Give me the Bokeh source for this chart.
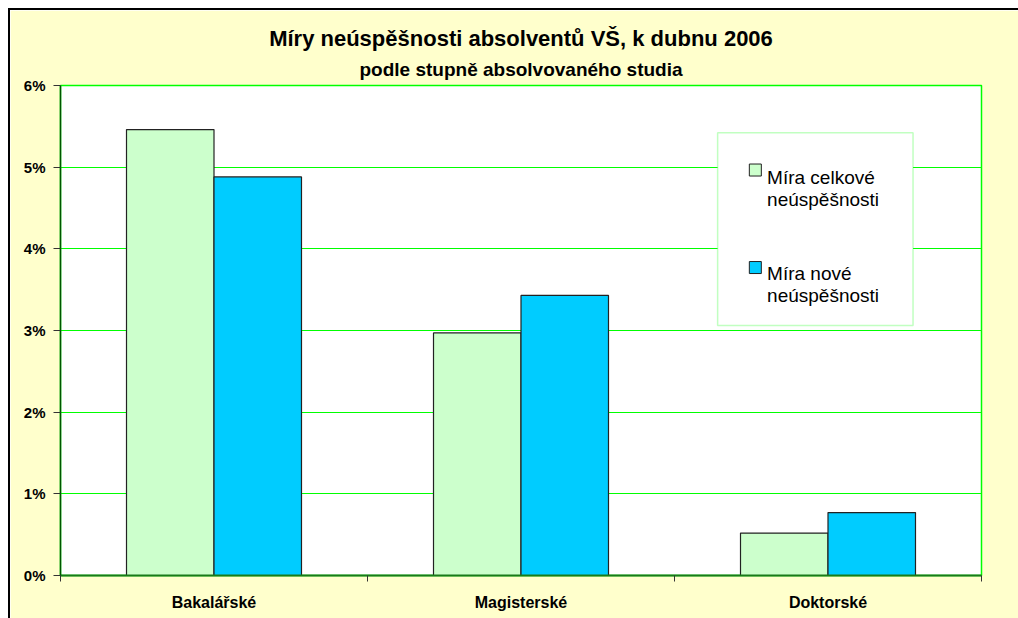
from bokeh.plotting import figure
from bokeh.layouts import column
from bokeh.models import (FixedTicker, NumeralTickFormatter, Range1d, Title,
                          BoxAnnotation, ColumnDataSource)
from bokeh.core.properties import value
from bokeh.embed import file_html
from bokeh.resources import INLINE

# ---- data ----
categories = ["Bakalářské", "Magisterské", "Doktorské"]
celkova = [0.0546, 0.0297, 0.0052]   # Míra celkové neúspěšnosti
nova = [0.0488, 0.0343, 0.0077]      # Míra nové neúspěšnosti
series_names = ["Míra celkové\nneúspěšnosti", "Míra nové\nneúspěšnosti"]
y_ticks = [0, 0.01, 0.02, 0.03, 0.04, 0.05, 0.06]

FONT = "Liberation Sans"
GREEN_FILL = "#CCFFCC"
BLUE_FILL = "#00CCFF"

centers = [i + 0.5 for i in range(len(categories))]
bar_w = 0.285

p = figure(width=1008, height=608, frame_width=919, frame_height=488,
           x_range=Range1d(0, 3), y_range=Range1d(0, 0.06),
           output_backend="svg", toolbar_location=None,
           min_border_left=50, min_border_right=39, min_border_top=75,
           min_border_bottom=45)
p.border_fill_color = "#FFFFCC"
p.background_fill_color = "white"
p.outline_line_color = "#00FF00"
p.outline_line_width = 1.5
p.styles = {"border-left": "2px solid #000", "border-top": "2px solid #000"}

# titles
sub = Title(text="podle stupně absolvovaného studia", align="center",
            text_font=FONT, text_font_size="19px", text_font_style="bold",
            text_color="black", standoff=12)
p.add_layout(sub, "above")
main = Title(text="Míry neúspěšnosti absolventů VŠ, k dubnu 2006", align="center",
             text_font=FONT, text_font_size="22px", text_font_style="bold",
             text_color="black", standoff=0)
p.add_layout(main, "above")

# bars
src = ColumnDataSource(dict(
    x1=[c - bar_w / 2 for c in centers], x2=[c + bar_w / 2 for c in centers],
    celkova=celkova, nova=nova))
p.vbar(x="x1", top="celkova", width=bar_w, source=src, fill_color=GREEN_FILL,
       line_color="#222222", line_width=1.2)
p.vbar(x="x2", top="nova", width=bar_w, source=src, fill_color=BLUE_FILL,
       line_color="#222222", line_width=1.2)

# grid
p.xgrid.visible = False
p.ygrid.grid_line_color = "#00FF00"
p.ygrid.grid_line_width = 1
p.yaxis.ticker = FixedTicker(ticks=y_ticks)

# axes
p.yaxis.formatter = NumeralTickFormatter(format="0%")
p.yaxis.axis_line_color = "#005500"
p.yaxis.axis_line_width = 1.5
p.yaxis.major_tick_line_color = "#333333"
p.yaxis.major_tick_in = 0
p.yaxis.major_tick_out = 7
p.yaxis.minor_tick_line_color = None
p.yaxis.major_label_standoff = 8
p.yaxis.major_label_text_font = FONT
p.yaxis.major_label_text_font_size = "15px"
p.yaxis.major_label_text_font_style = "bold"
p.yaxis.major_label_text_color = "black"

p.xaxis.ticker = FixedTicker(ticks=centers, minor_ticks=[0, 1, 2, 3])
p.xaxis.major_label_overrides = {c: n for c, n in zip(centers, categories)}
p.xaxis.axis_line_color = "#1A7A1A"
p.xaxis.axis_line_width = 2
p.xaxis.major_tick_line_color = None
p.xaxis.major_tick_in = 0
p.xaxis.major_tick_out = 6
p.xaxis.minor_tick_line_color = "#333333"
p.xaxis.minor_tick_in = 0
p.xaxis.minor_tick_out = 6
p.xaxis.major_label_standoff = 12
p.xaxis.major_label_text_font = FONT
p.xaxis.major_label_text_font_size = "16px"
p.xaxis.major_label_text_font_style = "bold"
p.xaxis.major_label_text_color = "black"

# custom legend (layout positions in data units)
LEG_L, LEG_R, LEG_B, LEG_T = 2.1405, 2.777, 0.03062, 0.05422
SW_X = 2.2633
SW_Y = [0.04965, 0.03771]
TX_X = 2.3015
TX_Y = [(0.04869, 0.04599), (0.03701, 0.03430)]
p.add_layout(BoxAnnotation(left=LEG_L, right=LEG_R, bottom=LEG_B, top=LEG_T,
                           fill_color="white", fill_alpha=1,
                           line_color="#33FF33", line_width=1.5, level="underlay"))
p.scatter(x=[SW_X, SW_X], y=SW_Y, marker="square", size=12,
          fill_color=[GREEN_FILL, BLUE_FILL], line_color="#222222",
          line_width=1)
lines_x, lines_y, lines_t = [], [], []
for name, (y1, y2) in zip(series_names, TX_Y):
    a, b = name.split("\n")
    lines_x += [TX_X, TX_X]
    lines_y += [y1, y2]
    lines_t += [a, b]
p.text(x=lines_x, y=lines_y, text=lines_t, text_font=value(FONT),
       text_font_size="19px", text_color="black", text_baseline="alphabetic",
       text_align="left")

root = column(p, styles={"border-left": "8px solid #fff",
                         "border-top": "8px solid #fff"})

html = file_html(root, INLINE)
html = html.replace("<head>",
                    "<head><style>html,body{overflow:hidden;margin:0;padding:0}</style>", 1)
open("out.html", "w").write(html)
